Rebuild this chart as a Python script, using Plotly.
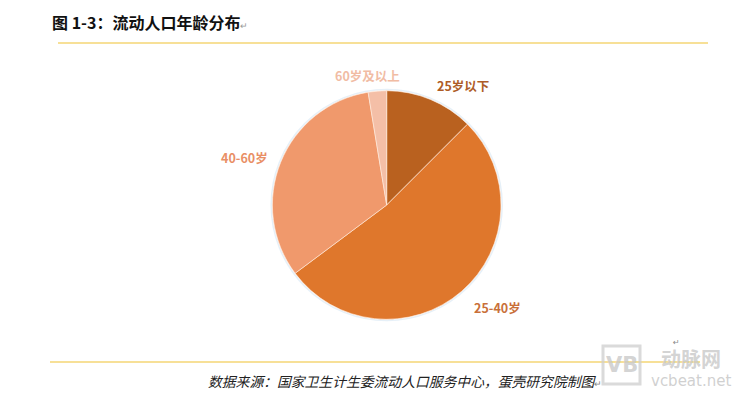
import plotly.graph_objects as go

# Data
categories = ["25岁以下", "25-40岁", "40-60岁", "60岁及以上"]
shares = [12.5, 52.3, 32.6, 2.6]
slice_colors = ["#B9611F", "#DF772C", "#F0996C", "#F4BFA7"]
label_colors = ["#AE5C26", "#C9703A", "#E98F66", "#F1BCA4"]

title_text = "图 1-3：流动人口年龄分布"
source_text = "数据来源：国家卫生计生委流动人口服务中心，蛋壳研究院制图"

W, H = 746, 398
OX, OY = 8, 8  # page body margin offset
cx, cy, r = 386.7, 205.0, 114.3

def px(x):
    return (x - OX) / W

def py(y):
    return 1 - (y - OY) / H

fig = go.Figure()

fig.add_trace(go.Pie(
    labels=categories,
    values=shares,
    sort=False,
    direction="clockwise",
    rotation=0,
    marker=dict(colors=slice_colors, line=dict(color="rgba(255,235,220,0.8)", width=0.8)),
    textinfo="none",
    hoverinfo="label+percent",
    showlegend=False,
    domain=dict(x=[px(cx - r), px(cx + r)], y=[py(cy + r), py(cy - r)]),
))

# slice labels placed around the pie
label_pos = [(463, 85), (497, 307), (244, 157), (367, 76)]
for cat, col, (lx, ly) in zip(categories, label_colors, label_pos):
    fig.add_annotation(x=px(lx), y=py(ly), xref="paper", yref="paper",
                       text="<b>" + cat + "</b>", showarrow=False,
                       font=dict(family="Noto Sans CJK SC", size=12.5, color=col),
                       xanchor="center", yanchor="middle")

shapes = [
    # faint halo around pie
    dict(type="circle", xref="paper", yref="paper",
         x0=px(cx - r - 1.2), x1=px(cx + r + 1.2), y0=py(cy + r + 1.2), y1=py(cy - r - 1.2),
         line=dict(color="rgba(200,222,240,0.45)", width=1.5), layer="below"),
    # title underline
    dict(type="line", xref="paper", yref="paper",
         x0=px(58), x1=px(708), y0=py(43), y1=py(43),
         line=dict(color="#F0C230", width=1.2)),
    # footer line
    dict(type="line", xref="paper", yref="paper",
         x0=px(50), x1=px(700), y0=py(362), y1=py(362),
         line=dict(color="#F0C230", width=1.2)),
    # watermark box
    dict(type="rect", xref="paper", yref="paper",
         x0=px(603), x1=px(640), y0=py(384), y1=py(346),
         line=dict(color="rgba(205,205,205,0.75)", width=3), fillcolor="rgba(255,255,255,0)"),
]
fig.update_layout(shapes=shapes)

# title
fig.add_annotation(x=px(50), y=py(22), xref="paper", yref="paper",
                   text="<b>" + title_text + "</b><span style='color:#999999;font-size:9px'>↵</span>",
                   showarrow=False, xanchor="left", yanchor="middle",
                   font=dict(family="Noto Sans CJK SC", size=16, color="#111111"))

# source footer
fig.add_annotation(x=px(206), y=py(381), xref="paper", yref="paper",
                   text="<i>" + source_text + "</i><span style='color:#888888;font-size:9px'>↵</span>",
                   showarrow=False, xanchor="left", yanchor="middle",
                   font=dict(family="Noto Sans CJK SC", size=13.8, color="#222222"))

# stray return mark
fig.add_annotation(x=px(676), y=py(342), xref="paper", yref="paper",
                   text="↵", showarrow=False, xanchor="center", yanchor="middle",
                   font=dict(family="DejaVu Sans", size=8, color="#888888"))

# watermark
fig.add_annotation(x=px(621.5), y=py(365), xref="paper", yref="paper",
                   text="<b>VB</b>", showarrow=False, xanchor="center", yanchor="middle",
                   font=dict(family="DejaVu Sans", size=21, color="rgba(200,200,200,0.8)"))
fig.add_annotation(x=px(691), y=py(358), xref="paper", yref="paper",
                   text="<b>动脉网</b>", showarrow=False, xanchor="center", yanchor="middle",
                   font=dict(family="Noto Sans CJK SC", size=20, color="rgba(200,200,200,0.8)"))
fig.add_annotation(x=px(691), y=py(381), xref="paper", yref="paper",
                   text="vcbeat.net", showarrow=False, xanchor="center", yanchor="middle",
                   font=dict(family="DejaVu Sans", size=15, color="rgba(200,200,200,0.85)"))

fig.update_layout(
    width=W, height=H,
    margin=dict(l=0, r=0, t=0, b=0),
    paper_bgcolor="white",
    plot_bgcolor="white",
)

fig.write_html("out.html")
